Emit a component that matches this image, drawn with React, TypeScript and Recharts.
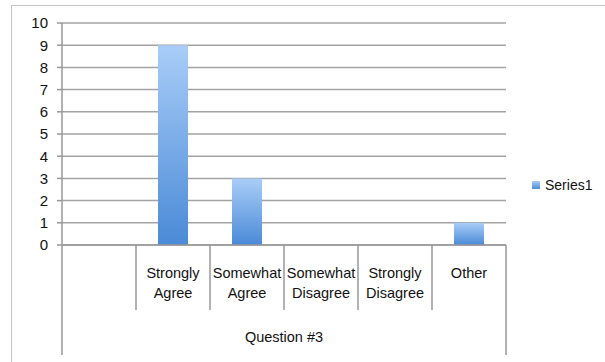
import { BarChart, Bar, XAxis, YAxis, CartesianGrid } from "recharts";

const categories = ["", "Strongly Agree", "Somewhat Agree", "Somewhat Disagree", "Strongly Disagree", "Other"];
const series1 = [0, 9, 3, 0, 0, 1];
const yTicks = [0, 1, 2, 3, 4, 5, 6, 7, 8, 9, 10];
const axisTitle = "Question #3";
const seriesName = "Series1";

const FONT = "'Liberation Sans', Arial, sans-serif";
const W = 605;
const H = 362;
const M = { top: 23, right: 99, bottom: 7, left: 12 };
const Y_W = 50;
const BAND = (W - M.left - Y_W - M.right) / categories.length;

const data = categories.map((name, i) => ({ name, [seriesName]: series1[i] }));

const CategoryTick = (props: any) => {
    const { x, y, payload, index } = props;
    const words = String(payload.value).split(" ").filter(Boolean);
    const left = x - BAND / 2;
    return (
        <g>
            <line
                x1={left}
                x2={left}
                y1={y}
                y2={index === 0 ? y + 110 : y + 65}
                stroke="#999"
                strokeWidth={1.5}
            />
            {index === categories.length - 1 && (
                <line x1={x + BAND / 2} x2={x + BAND / 2} y1={y} y2={y + 110} stroke="#999" strokeWidth={1.5} />
            )}
            {words.map((w, i) => (
                <text
                    key={i}
                    x={x}
                    y={y + 33 + i * 20}
                    textAnchor="middle"
                    fontSize={14.5}
                    fontFamily={FONT}
                    fill="#111"
                >
                    {w}
                </text>
            ))}
        </g>
    );
};

export default function App() {
    return (
        <div style={{ position: "absolute", left: 0, top: 0, width: W, height: H, background: "#fff" }}>
            <div
                style={{
                    position: "absolute",
                    left: 11,
                    top: 5,
                    right: 0,
                    bottom: 0,
                    borderTop: "1.5px solid #c4c4c4",
                    borderLeft: "1.5px solid #c4c4c4",
                }}
            />
            <div style={{ position: "absolute", left: 0, top: 0 }}>
                <BarChart width={W} height={H} data={data} margin={M} barCategoryGap={0}>
                    <defs>
                        <linearGradient id="barFill" x1="0" y1="0" x2="0" y2="1">
                            <stop offset="0%" stopColor="#a9cdf8" />
                            <stop offset="100%" stopColor="#4a8ad7" />
                        </linearGradient>
                    </defs>
                    <CartesianGrid vertical={false} stroke="#a3a3a3" strokeWidth={1.5} />
                    <XAxis
                        dataKey="name"
                        height={110}
                        axisLine={{ stroke: "#999", strokeWidth: 1.5 }}
                        tickLine={false}
                        tickSize={0}
                        tickMargin={0}
                        interval={0}
                        tick={<CategoryTick />}
                        label={{
                            value: axisTitle,
                            position: "insideBottom",
                            offset: 13,
                            fontSize: 14.5,
                            fontFamily: FONT,
                            fill: "#111",
                        }}
                    />
                    <YAxis
                        width={Y_W}
                        domain={[0, 10]}
                        ticks={yTicks}
                        interval={0}
                        tickSize={5}
                        tickMargin={9}
                        axisLine={{ stroke: "#999", strokeWidth: 1.5 }}
                        tickLine={{ stroke: "#999", strokeWidth: 1.5 }}
                        tick={{ fontSize: 15, fontFamily: FONT, fill: "#111" }}
                    />
                    <Bar dataKey={seriesName} fill="url(#barFill)" barSize={30} isAnimationActive={false} />
                </BarChart>
            </div>
            <div
                style={{
                    position: "absolute",
                    left: 532,
                    top: 177,
                    display: "flex",
                    alignItems: "center",
                    fontFamily: FONT,
                    fontSize: 14,
                    color: "#111",
                }}
            >
                <span
                    style={{
                        width: 8,
                        height: 8,
                        marginRight: 5,
                        background: "linear-gradient(#a8ccf6, #4b8bd8)",
                        display: "inline-block",
                    }}
                />
                {seriesName}
            </div>
        </div>
    );
}
